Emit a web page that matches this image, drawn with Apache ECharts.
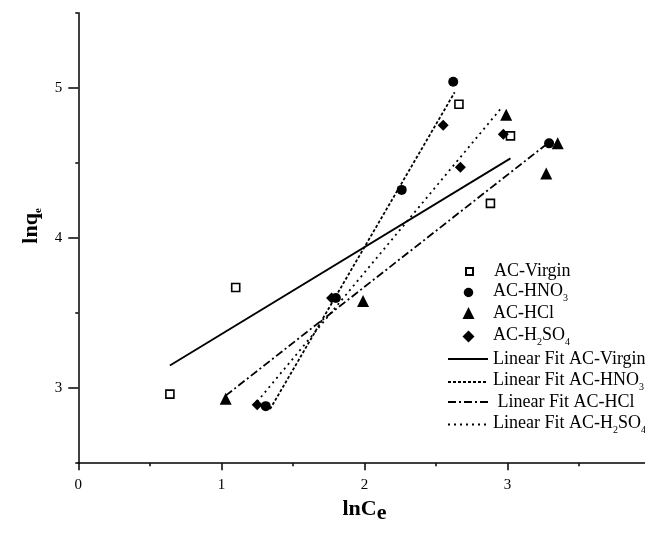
<!DOCTYPE html>
<html><head><meta charset="utf-8">
<script src="https://cdn.jsdelivr.net/npm/echarts@6/dist/echarts.min.js"></script>
<style>html,body{margin:0;padding:0;background:#fff}#c{width:645px;height:537px}</style>
</head><body><div id="c"></div>
<script>
// ---- data ----
const virginX = [0.64, 1.10, 2.88, 3.02, 2.66];
const virginY = [2.96, 3.67, 4.23, 4.68, 4.89];
const hno3X = [1.31, 1.80, 2.26, 2.62, 3.29];
const hno3Y = [2.88, 3.60, 4.32, 5.04, 4.63];
const hclX = [1.03, 1.99, 2.99, 3.27, 3.35];
const hclY = [2.93, 3.58, 4.82, 4.43, 4.63];
const h2so4X = [1.25, 1.77, 2.55, 2.67, 2.97];
const h2so4Y = [2.89, 3.60, 4.75, 4.47, 4.69];
// linear fit end points
const virginFitX = [0.64, 3.02];
const virginFitY = [3.15, 4.53];
const hno3FitX = [1.34, 2.63];
const hno3FitY = [2.86, 4.97];
const hclFitX = [1.03, 3.28];
const hclFitY = [2.95, 4.63];
const h2so4FitX = [1.25, 2.96];
const h2so4FitY = [2.91, 4.87];
// axes
const xTicks = [0, 1, 2, 3, 4];
const xLabels = [0, 1, 2, 3];
const yTicks = [3, 4, 5];
const yMinorTicks = [2.5, 3.5, 4.5, 5.5];
// legend entries
const pointNames = ['AC-Virgin', 'AC-HNO3', 'AC-HCl', 'AC-H2SO4'];
const fitNames = ['Linear Fit AC-Virgin', 'Linear Fit AC-HNO3', 'Linear Fit AC-HCl', 'Linear Fit AC-H2SO4'];
const pointLabels = ['{n|AC-Virgin}', '{n|AC-HNO}{s|3}', '{n|AC-HCl}', '{n|AC-H}{s|2}{n|SO}{s|4}'];
const fitLabels = ['{n|Linear Fit AC-Virgin}', '{n|Linear Fit AC-HNO}{s|3}', '{n| Linear Fit AC-HCl}', '{n|Linear Fit AC-H}{s|2}{n|SO}{s|4}'];

// ---- layout / style (not data) ----
const pointRowY = [271.5, 291, 313, 335];
const fitRowY = [359, 380.5, 402, 423];
const pointIconSize = [7, 9.5, 12, 12];
const FONT = '"Liberation Serif", "Times New Roman", serif';
const INK = '#000';

const zip = (xs, ys) => xs.map((x, i) => [x, ys[i]]);
const chart = echarts.init(document.getElementById('c'), null, {renderer: 'canvas'});

function scatter(name, xs, ys, symbol, size, fill) {
  return {
    name, type: 'scatter', data: zip(xs, ys), symbol, symbolSize: size, z: 5,
    symbolKeepAspect: true,
    itemStyle: {color: fill, borderColor: INK, borderWidth: fill === '#fff' ? 1.6 : 0, opacity: 1}
  };
}
function fit(name, xs, ys, dash) {
  return {
    name, type: 'line', data: zip(xs, ys), symbol: 'none', z: 3,
    lineStyle: {color: INK, width: 1.8, type: dash},
    itemStyle: {color: 'rgba(0,0,0,0)', borderWidth: 0}
  };
}
const richText = (pad) => ({
  fontFamily: FONT, fontSize: 18, color: INK, padding: [0, 0, 0, pad],
  rich: {
    n: {fontFamily: FONT, fontSize: 18, lineHeight: 18, verticalAlign: 'top', color: INK},
    s: {fontFamily: FONT, fontSize: 10, lineHeight: 21, padding: [11, 0, 0, 0], verticalAlign: 'bottom', color: INK}
  }
});
const legends = [];
pointNames.forEach((nm, i) => {
  const h = pointIconSize[i];
  legends.push({
    orient: 'vertical', left: 468.5 - h / 2, top: pointRowY[i] - 9, padding: 0,
    itemWidth: h, itemHeight: h, data: [nm], selectedMode: false,
    formatter: () => pointLabels[i], textStyle: richText(19.5 - h / 2)
  });
});
fitNames.forEach((nm, i) => {
  legends.push({
    orient: 'vertical', left: 447, top: fitRowY[i] - 9, padding: 0,
    itemWidth: 40, itemHeight: 10, data: [nm], selectedMode: false,
    formatter: () => fitLabels[i], textStyle: richText(0)
  });
});

chart.setOption({
  animation: false,
  backgroundColor: '#fff',
  grid: {left: 78.3, width: 572.4, top: 12.7, height: 450.5, containLabel: false, outerBoundsMode: 'none'},
  xAxis: {
    type: 'value', min: 0, max: 4, interval: 1,
    name: '{n|lnC}{s|e}', nameLocation: 'middle', nameGap: 35,
    nameTextStyle: {
      fontFamily: FONT, color: INK,
      rich: {
        n: {fontFamily: FONT, fontSize: 22, fontWeight: 'bold', lineHeight: 22, verticalAlign: 'top', color: INK},
        s: {fontFamily: FONT, fontSize: 22, fontWeight: 'bold', lineHeight: 26, padding: [4, 0, 0, 0], verticalAlign: 'bottom', color: INK}
      }
    },
    axisLine: {show: true, lineStyle: {color: INK, width: 1.5}},
    axisTick: {show: true, length: 7, lineStyle: {color: INK, width: 1.5}, customValues: xTicks},
    minorTick: {show: true, splitNumber: 2, length: 3, lineStyle: {color: INK, width: 1.5}},
    axisLabel: {fontFamily: FONT, fontSize: 15, color: INK, margin: 14, customValues: xLabels},
    splitLine: {show: false}
  },
  yAxis: [{
    type: 'value', min: 2.5, max: 5.5, position: 'left',
    name: '{n|lnq}{s|e}', nameLocation: 'middle', nameGap: 30,
    nameTextStyle: {
      fontFamily: FONT, color: INK, padding: [0, 0, 0, 24],
      rich: {
        n: {fontFamily: FONT, fontSize: 22, fontWeight: 'bold', lineHeight: 22, verticalAlign: 'top', color: INK},
        s: {fontFamily: FONT, fontSize: 11, fontWeight: 'bold', lineHeight: 24, padding: [13, 0, 0, 0], verticalAlign: 'bottom', color: INK}
      }
    },
    axisLine: {show: true, onZero: false, lineStyle: {color: INK, width: 1.5}},
    axisTick: {show: true, length: 10, lineStyle: {color: INK, width: 1.5}, customValues: yTicks},
    axisLabel: {fontFamily: FONT, fontSize: 15, color: INK, margin: 16, customValues: yTicks},
    splitLine: {show: false}
  }, {
    type: 'value', min: 2.5, max: 5.5, position: 'left', offset: 0,
    axisLine: {show: false},
    axisTick: {show: true, length: 3, lineStyle: {color: INK, width: 1.5}, customValues: yMinorTicks},
    axisLabel: {show: false},
    splitLine: {show: false}
  }],
  legend: legends,
  series: [
    fit(fitNames[0], virginFitX, virginFitY, 'solid'),
    fit(fitNames[1], hno3FitX, hno3FitY, [3, 2]),
    fit(fitNames[2], hclFitX, hclFitY, [8, 3, 2, 3]),
    fit(fitNames[3], h2so4FitX, h2so4FitY, [2, 4]),
    scatter(pointNames[0], virginX, virginY, 'rect', 8, '#fff'),
    scatter(pointNames[1], hno3X, hno3Y, 'circle', 10, INK),
    scatter(pointNames[2], hclX, hclY, 'triangle', 12, INK),
    scatter(pointNames[3], h2so4X, h2so4Y, 'diamond', 11, INK)
  ]
});
</script></body></html>
